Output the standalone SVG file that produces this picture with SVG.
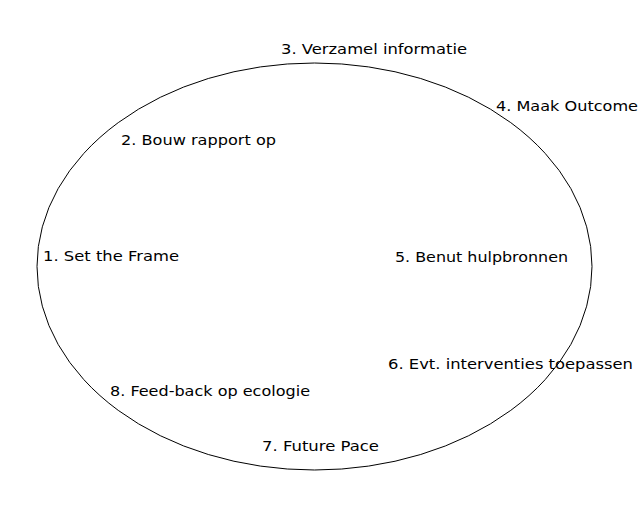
<svg xmlns="http://www.w3.org/2000/svg" width="640" height="512" viewBox="0 0 640 512">
<style>
text{font-family:"DejaVu Sans","Verdana",sans-serif;font-size:14px;fill:#000}
.ring{fill:none;stroke:#000;stroke-width:1}
</style>
<rect width="640" height="512" fill="#fff"/>
<g id="connectors">
<ellipse class="ring" cx="314.5" cy="266.5" rx="277.5" ry="203.5"/>
</g>
<g id="n3"><text x="281" y="54" textLength="186" lengthAdjust="spacingAndGlyphs">3. Verzamel informatie</text></g>
<g id="n4"><text x="496" y="111" textLength="142" lengthAdjust="spacingAndGlyphs">4. Maak Outcome</text></g>
<g id="n2"><text x="121" y="145" textLength="155" lengthAdjust="spacingAndGlyphs">2. Bouw rapport op</text></g>
<g id="n1"><text x="43" y="261" textLength="136" lengthAdjust="spacingAndGlyphs">1. Set the Frame</text></g>
<g id="n5"><text x="395" y="262" textLength="173" lengthAdjust="spacingAndGlyphs">5. Benut hulpbronnen</text></g>
<g id="n6"><text x="388" y="369" textLength="245" lengthAdjust="spacingAndGlyphs">6. Evt. interventies toepassen</text></g>
<g id="n8"><text x="110" y="396" textLength="200" lengthAdjust="spacingAndGlyphs">8. Feed-back op ecologie</text></g>
<g id="n7"><text x="262" y="451" textLength="117" lengthAdjust="spacingAndGlyphs">7. Future Pace</text></g>
</svg>
